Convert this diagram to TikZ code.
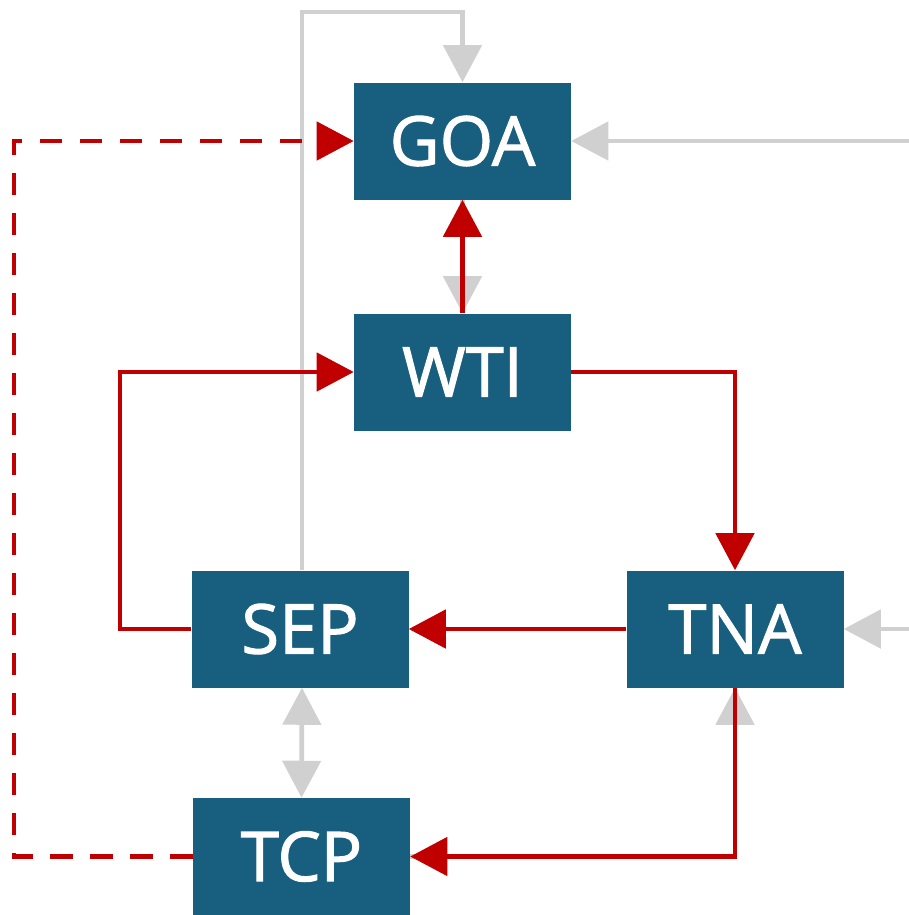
\documentclass[tikz,border=0pt]{standalone}
\usepackage{fontspec}
\setmainfont{Open Sans}
\newfontfamily\boxfont[FakeBold=1.6]{Open Sans}
\usetikzlibrary{arrows.meta}
\definecolor{boxblue}{HTML}{175E7F}
\definecolor{linered}{HTML}{C00000}
\definecolor{linegray}{HTML}{D0D0D0}
\tikzset{
  blockbox/.style={rectangle, fill=boxblue, draw=none, minimum width=162.75pt, minimum height=87.75pt,
    inner sep=0pt, text=white, font=\boxfont\fontsize{51.5}{56}\selectfont},
  redarr/.style={draw=linered, line width=3.6pt, -{Triangle[length=27.75pt,width=28.5pt]}},
  reddash/.style={redarr, dash pattern=on 17pt off 13pt},
  grayarr/.style={draw=linegray, line width=3.6pt, -{Triangle[length=27.75pt,width=28.5pt]}},
  graydbl/.style={draw=linegray, line width=3.6pt, {Triangle[length=27.75pt,width=28.5pt]}-{Triangle[length=27.75pt,width=28.5pt]}}
}
\begin{document}
\begin{tikzpicture}[x=0.75pt, y=-0.75pt]
\useasboundingbox (0,0) rectangle (909,915);
\node[blockbox] (GOA) at (462.5,141) {GOA};
\node[blockbox] (WTI) at (462.5,372) {WTI};
\node[blockbox] (SEP) at (300,629) {SEP};
\node[blockbox] (TNA) at (735,629) {TNA};
\node[blockbox] (TCP) at (301.5,856.5) {TCP};
\coordinate (topturn) at (462.5,12);
\coordinate (rgoa) at (911,141);
\coordinate (rtna) at (911,629);
\coordinate (dashcorner) at (14,141);
\coordinate (leftcorner) at (120,372);
% gray connectors
\draw[grayarr] ([xshift=1.5pt]SEP.north) |- (topturn) -- (GOA.north);
\draw[grayarr] (rgoa) -- (GOA.east);
\draw[grayarr] (rtna) -- (TNA.east);
\draw[grayarr] (GOA.south) -- (WTI.north);
\draw[graydbl] ([xshift=1.5pt]SEP.south) -- (TCP.north);
\draw[grayarr] (TCP.east) -| (TNA.south);
% red connectors
\draw[redarr] (WTI.north) -- (GOA.south);
\draw[redarr] (WTI.east) -| (TNA.north);
\draw[redarr] (TNA.west) -- (SEP.east);
\draw[redarr] (SEP.west) -| (leftcorner) -- (WTI.west);
\draw[redarr] (TNA.south) |- (TCP.east);
\draw[reddash] (TCP.west) -| (dashcorner) -- (GOA.west);
\end{tikzpicture}
\end{document}
